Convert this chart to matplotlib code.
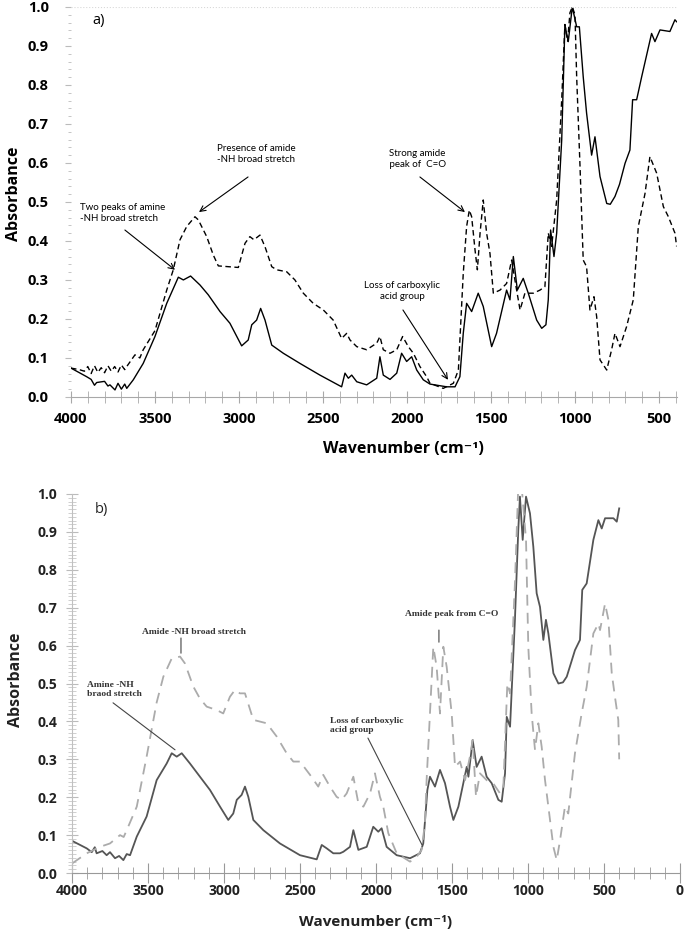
import numpy as np
from matplotlib import pyplot as plt
from matplotlib.ticker import MultipleLocator

plt.rcParams['font.family'] = ['Open Sans', 'DejaVu Sans']

# ---- panel a) data (wavenumber, absorbance) ----
a_solid_wn = [4000, 3907, 3880, 3860, 3847, 3800, 3780, 3768, 3738, 3720, 3700, 3680, 3668, 3629, 3570,
              3500, 3430, 3361, 3331, 3288, 3232, 3183, 3113, 3054, 2984, 2945, 2924, 2895, 2871,
              2845, 2805, 2736, 2637, 2518, 2389, 2369, 2349, 2329, 2299, 2240, 2180, 2161, 2141,
              2101, 2061, 2032, 2002, 1972, 1942, 1903, 1863, 1764, 1714, 1685, 1665, 1645, 1615,
              1576, 1546, 1496, 1467, 1407, 1387, 1367, 1343, 1308, 1278, 1228, 1198, 1173, 1159,
              1145, 1125, 1109, 1079, 1060, 1040, 1016, 990, 974, 951, 931, 901, 881, 851, 811,
              790, 762, 735, 702, 673, 657, 633, 603, 544, 524, 494, 435, 405, 395]
a_solid = [0.074, 0.052, 0.045, 0.030, 0.037, 0.040, 0.028, 0.031, 0.018, 0.035, 0.020, 0.033, 0.022,
           0.044, 0.086, 0.155, 0.240, 0.307, 0.300, 0.310, 0.287, 0.262, 0.219, 0.189, 0.131,
           0.146, 0.185, 0.197, 0.227, 0.197, 0.133, 0.112, 0.086, 0.056, 0.026, 0.061, 0.048,
           0.056, 0.039, 0.031, 0.048, 0.103, 0.056, 0.045, 0.061, 0.112, 0.091, 0.103, 0.069,
           0.044, 0.033, 0.026, 0.026, 0.052, 0.163, 0.240, 0.219, 0.266, 0.232, 0.129, 0.163,
           0.274, 0.249, 0.360, 0.274, 0.304, 0.266, 0.197, 0.176, 0.185, 0.249, 0.428, 0.360,
           0.420, 0.659, 0.954, 0.911, 1.0, 0.949, 0.949, 0.821, 0.728, 0.620, 0.667, 0.565,
           0.496, 0.494, 0.514, 0.545, 0.599, 0.633, 0.762, 0.762, 0.821, 0.932, 0.911, 0.941,
           0.937, 0.967, 0.962]

a_dash_wn = [4000, 3950, 3920, 3900, 3880, 3860, 3840, 3820, 3800, 3780, 3760, 3740, 3720, 3700, 3680,
             3668, 3619, 3590, 3570, 3500, 3430, 3391, 3351, 3311, 3262, 3242, 3192, 3153, 3123,
             3064, 3004, 2964, 2935, 2911, 2875, 2845, 2805, 2776, 2716, 2667, 2617, 2558, 2498,
             2439, 2389, 2359, 2339, 2299, 2240, 2180, 2161, 2141, 2101, 2061, 2026, 1992, 1962,
             1923, 1883, 1863, 1784, 1724, 1694, 1665, 1645, 1629, 1615, 1595, 1581, 1565, 1546,
             1526, 1506, 1486, 1446, 1407, 1377, 1351, 1327, 1298, 1248, 1208, 1179, 1159, 1139,
             1109, 1079, 1060, 1044, 1030, 1016, 1000, 990, 970, 951, 931, 911, 887, 871, 851,
             811, 782, 762, 732, 693, 653, 623, 583, 554, 514, 474, 444, 405, 395]
a_dash = [0.074, 0.070, 0.066, 0.078, 0.060, 0.080, 0.063, 0.075, 0.062, 0.080, 0.066, 0.078, 0.064,
          0.082, 0.070, 0.078, 0.108, 0.100, 0.121, 0.170, 0.274, 0.326, 0.403, 0.437, 0.462,
          0.454, 0.411, 0.364, 0.336, 0.334, 0.332, 0.394, 0.411, 0.403, 0.415, 0.385, 0.334,
          0.326, 0.321, 0.300, 0.266, 0.240, 0.223, 0.197, 0.150, 0.163, 0.146, 0.129, 0.121,
          0.138, 0.155, 0.121, 0.112, 0.121, 0.155, 0.129, 0.112, 0.078, 0.052, 0.035, 0.022,
          0.035, 0.069, 0.317, 0.437, 0.479, 0.462, 0.377, 0.326, 0.420, 0.505, 0.420, 0.368,
          0.266, 0.274, 0.291, 0.351, 0.283, 0.223, 0.266, 0.266, 0.274, 0.283, 0.420, 0.386,
          0.505, 0.762, 0.955, 0.912, 0.985, 1.0, 0.98, 0.821, 0.591, 0.351, 0.334, 0.223,
          0.257, 0.206, 0.095, 0.069, 0.121, 0.163, 0.129, 0.180, 0.249, 0.437, 0.522, 0.616,
          0.574, 0.488, 0.462, 0.420, 0.386]

# ---- panel b) data ----
b_solid_wn = [4000, 3903, 3870, 3850, 3838, 3800, 3772, 3750, 3717, 3690, 3662, 3640, 3618, 3574,
              3509, 3443, 3377, 3344, 3311, 3278, 3224, 3158, 3092, 3026, 2972, 2939, 2916, 2884,
              2862, 2840, 2807, 2741, 2632, 2500, 2390, 2357, 2324, 2281, 2237, 2215, 2171, 2149,
              2116, 2061, 2018, 1985, 1963, 1930, 1864, 1776, 1711, 1689, 1662, 1645, 1612, 1579,
              1546, 1513, 1491, 1458, 1403, 1392, 1364, 1338, 1305, 1272, 1239, 1195, 1173, 1151,
              1140, 1118, 1086, 1064, 1053, 1035, 1013, 987, 965, 943, 921, 899, 882, 866, 833,
              800, 770, 745, 691, 658, 643, 614, 570, 537, 515, 493, 438, 416, 400]
b_solid = [0.085, 0.065, 0.055, 0.068, 0.052, 0.058, 0.047, 0.055, 0.039, 0.045, 0.034, 0.050, 0.047,
           0.096, 0.149, 0.245, 0.289, 0.316, 0.307, 0.316, 0.289, 0.254, 0.219, 0.175, 0.140,
           0.157, 0.193, 0.206, 0.228, 0.201, 0.140, 0.113, 0.078, 0.047, 0.036, 0.074, 0.065,
           0.052, 0.052, 0.056, 0.069, 0.113, 0.061, 0.069, 0.122, 0.109, 0.118, 0.069, 0.047,
           0.039, 0.052, 0.078, 0.219, 0.254, 0.228, 0.272, 0.237, 0.175, 0.140, 0.175, 0.280,
           0.254, 0.351, 0.280, 0.307, 0.254, 0.237, 0.193, 0.188, 0.263, 0.412, 0.386, 0.668,
           0.905, 0.993, 0.879, 0.993, 0.949, 0.861, 0.738, 0.702, 0.615, 0.668, 0.632, 0.527,
           0.500, 0.503, 0.518, 0.588, 0.615, 0.747, 0.764, 0.879, 0.931, 0.909, 0.936, 0.936,
           0.927, 0.962]

b_dash_wn = [4000, 3903, 3816, 3750, 3684, 3660, 3640, 3574, 3509, 3443, 3399, 3344, 3289, 3257, 3202,
             3158, 3114, 3048, 3005, 2961, 2928, 2895, 2862, 2807, 2719, 2653, 2588, 2544, 2500,
             2434, 2380, 2347, 2303, 2259, 2226, 2193, 2149, 2116, 2083, 2039, 2007, 1974, 1952,
             1919, 1864, 1776, 1732, 1700, 1678, 1667, 1645, 1623, 1601, 1579, 1557, 1535, 1502,
             1480, 1447, 1414, 1382, 1364, 1342, 1316, 1272, 1228, 1184, 1162, 1136, 1118, 1086,
             1064, 1042, 1013, 998, 976, 954, 932, 910, 888, 866, 833, 811, 789, 757, 735, 691,
             647, 614, 570, 537, 526, 493, 471, 449, 428, 406, 400]
b_dash = [0.025, 0.052, 0.069, 0.078, 0.100, 0.095, 0.113, 0.175, 0.307, 0.450, 0.518, 0.566, 0.571,
          0.553, 0.492, 0.460, 0.439, 0.430, 0.421, 0.465, 0.483, 0.474, 0.474, 0.404, 0.395,
          0.360, 0.316, 0.294, 0.294, 0.259, 0.228, 0.259, 0.228, 0.201, 0.193, 0.210, 0.254,
          0.184, 0.175, 0.210, 0.263, 0.201, 0.175, 0.105, 0.052, 0.030, 0.043, 0.061, 0.131,
          0.245, 0.421, 0.597, 0.544, 0.421, 0.597, 0.544, 0.421, 0.280, 0.294, 0.245, 0.307,
          0.351, 0.201, 0.263, 0.245, 0.236, 0.210, 0.228, 0.500, 0.474, 0.764, 1.02, 1.02,
          0.879, 0.597, 0.421, 0.325, 0.395, 0.333, 0.245, 0.175, 0.069, 0.034, 0.087, 0.175,
          0.157, 0.316, 0.421, 0.491, 0.632, 0.658, 0.641, 0.711, 0.668, 0.527, 0.465, 0.404, 0.300]

fig = plt.figure(figsize=(6.85, 9.34), dpi=100)

# ---------------- panel a ----------------
ax1 = fig.add_axes([0.1036, 0.575, 0.8854, 0.4176])
ax1.plot(a_solid_wn, a_solid, color='black', lw=1.0)
ax1.plot(a_dash_wn, a_dash, color='black', lw=1.0, dashes=(4, 2.5))
ax1.set_xlim(4000, 390)
ax1.set_ylim(0, 1.0)
ax1.axhline(1.0, color='#d8d8d8', lw=0.8, ls=':')
for s in ['top', 'right', 'left']:
    ax1.spines[s].set_visible(False)
ax1.spines['bottom'].set_color('#a8a8a8')
ax1.set_xticks([4000, 3500, 3000, 2500, 2000, 1500, 1000, 500])
ax1.xaxis.set_minor_locator(MultipleLocator(100))
ax1.set_yticks(np.arange(0, 1.01, 0.1))
ax1.set_yticklabels(['%.1f' % v for v in np.arange(0, 1.01, 0.1)])
ax1.yaxis.set_minor_locator(MultipleLocator(0.02))
ax1.tick_params(axis='x', which='both', direction='inout', length=8, color='#a8a8a8', pad=7)
ax1.tick_params(axis='y', which='major', direction='out', length=4, color='#bbbbbb', pad=12)
ax1.tick_params(axis='y', which='minor', direction='out', length=2.5, color='#bbbbbb')
for lab in ax1.get_xticklabels() + ax1.get_yticklabels():
    lab.set_fontweight('bold')
    lab.set_fontsize(10.5)
ax1.set_xlabel('Wavenumber (cm\u207b\u00b9)', fontsize=11.5, fontweight='bold')
ax1.set_ylabel('Absorbance', fontsize=11.5, fontweight='bold')
ax1.xaxis.set_label_coords(0.549, -0.113)
ax1.yaxis.set_label_coords(-0.080, 0.52)
ax1.text(3870, 0.965, 'a)', fontsize=10.5, va='center', ha='left')

ann_a = dict(arrowstyle='->', color='black', lw=0.8, shrinkA=0, shrinkB=0)
lato = dict(fontsize=7, family='Lato', linespacing=1.3, va='center')
ax1.text(3946, 0.472, 'Two peaks of amine\n-NH broad stretch', ha='left', **lato)
ax1.annotate('', xy=(3381, 0.326), xytext=(3679, 0.428), arrowprops=ann_a)
ax1.text(3131, 0.624, 'Presence of amide\n-NH broad stretch', ha='left', **lato)
ax1.annotate('', xy=(3238, 0.474), xytext=(2946, 0.564), arrowprops=ann_a)
ax1.text(1940, 0.610, 'Strong amide\n peak of  C=O', ha='center', **lato)
ax1.annotate('', xy=(1655, 0.474), xytext=(1923, 0.564), arrowprops=ann_a)
ax1.text(2030, 0.272, 'Loss of carboxylic\nacid group', ha='center', **lato)
ax1.annotate('', xy=(1756, 0.044), xytext=(2024, 0.223), arrowprops=ann_a)

# ---------------- panel b ----------------
ax2 = fig.add_axes([0.1051, 0.0653, 0.8876, 0.4058])
ax2.plot(b_solid_wn, b_solid, color='#555555', lw=1.3)
ax2.plot(b_dash_wn, b_dash, color='#ababab', lw=1.3, dashes=(6, 4))
ax2.set_xlim(4000, 0)
ax2.set_ylim(0, 1.0)
for s in ['top', 'right']:
    ax2.spines[s].set_visible(False)
ax2.spines['left'].set_color('#c0c0c0')
ax2.spines['bottom'].set_color('#999999')
ax2.set_xticks([4000, 3500, 3000, 2500, 2000, 1500, 1000, 500, 0])
ax2.xaxis.set_minor_locator(MultipleLocator(100))
ax2.set_yticks(np.arange(0, 1.01, 0.1))
ax2.set_yticklabels(['%.1f' % v for v in np.arange(0, 1.01, 0.1)])
ax2.yaxis.set_minor_locator(MultipleLocator(0.01))
ax2.tick_params(axis='x', which='major', direction='inout', length=14, color='#999999', pad=1)
ax2.tick_params(axis='x', which='minor', direction='inout', length=8, color='#999999')
ax2.tick_params(axis='y', which='major', direction='inout', length=9, color='#bbbbbb', pad=6)
ax2.tick_params(axis='y', which='minor', direction='inout', length=6, color='#c8c8c8')
for lab in ax2.get_xticklabels() + ax2.get_yticklabels():
    lab.set_fontweight('bold')
    lab.set_fontsize(10)
    lab.set_color('#222222')
ax2.set_xlabel('Wavenumber (cm\u207b\u00b9)', fontsize=11, fontweight='bold', color='#222222')
ax2.set_ylabel('Absorbance', fontsize=11.5, fontweight='bold', color='#222222')
ax2.xaxis.set_label_coords(0.50, -0.111)
ax2.yaxis.set_label_coords(-0.079, 0.51)
ax2.text(3850, 0.96, 'b)', fontsize=10.5, va='center', ha='left', color='#222222')

ann_b = dict(arrowstyle='-', color='#444444', lw=0.8, shrinkA=0, shrinkB=0)
serif = dict(fontsize=6.8, fontweight='bold', family='Liberation Serif', color='#333333',
             linespacing=1.2)
ax2.text(3197, 0.636, 'Amide -NH broad stretch', ha='center', va='center', **serif)
ax2.annotate('', xy=(3283, 0.580), xytext=(3283, 0.620), arrowprops=ann_b)
ax2.text(3901, 0.485, 'Amine -NH\nbraod stretch', ha='left', va='center', **serif)
ax2.annotate('', xy=(3322, 0.325), xytext=(3730, 0.449), arrowprops=ann_b)
ax2.text(1500, 0.683, 'Amide peak from C=O', ha='center', va='center', **serif)
ax2.annotate('', xy=(1586, 0.609), xytext=(1586, 0.641), arrowprops=ann_b)
ax2.text(2303, 0.390, 'Loss of carboxylic\nacid group', ha='left', va='center', **serif)
ax2.annotate('', xy=(1697, 0.074), xytext=(2053, 0.356), arrowprops=ann_b)

plt.savefig('out.png', dpi=100)
